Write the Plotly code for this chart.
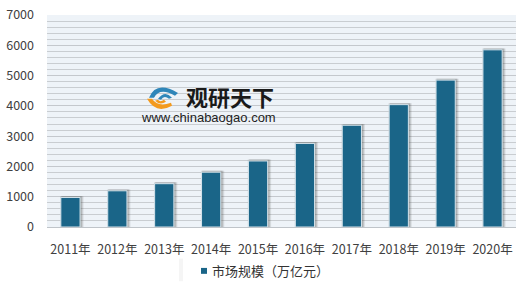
import plotly.graph_objects as go

years = ["2011年", "2012年", "2013年", "2014年", "2015年", "2016年", "2017年", "2018年", "2019年", "2020年"]
market = [975, 1195, 1430, 1810, 2180, 2760, 3360, 4040, 4850, 5850]
series_name = "市场规模（万亿元）"

FONT = "Noto Sans CJK SC"
BAR = "#1a6588"

# plot area in pixels
L, R, T, B = 47, 516, 12, 227
def px(x):
    return (x - L) / (R - L)
def py(y):
    return (B - y) / (B - T)

fig = go.Figure()

# soft shadow layers
for w, off, op in [(0.50, -0.22, 0.10), (0.46, -0.20, 0.14), (0.43, -0.19, 0.18)]:
    fig.add_trace(go.Bar(
        x=years, y=[v + 45 for v in market], width=w, offset=off,
        marker=dict(color=f"rgba(60,60,60,{op})", line=dict(width=0)),
        showlegend=False, hoverinfo="skip"))

fig.add_trace(go.Bar(
    x=years, y=market, name=series_name, width=0.41, offset=-0.205,
    marker=dict(color=BAR, line=dict(color="#d6e4ec", width=1)), showlegend=False))

fig.update_layout(
    width=520, height=282,
    margin=dict(l=L, r=520 - R, t=T, b=282 - B),
    paper_bgcolor="white", plot_bgcolor="#eef3f8",
    barmode="overlay",
    font=dict(family=FONT, size=12, color="#404040"),
    showlegend=False,
    xaxis=dict(showgrid=False, showline=True, linecolor="#bfc4c9", ticks="",
               tickfont=dict(size=12.5, color="#404040"), ticklabelstandoff=11),
    yaxis=dict(range=[0, 7000], dtick=1000, showgrid=True, gridcolor="#c4c8cd", gridwidth=1,
               minor=dict(dtick=200, showgrid=True, gridcolor="#c9cdd1", gridwidth=1),
               zeroline=False, showline=False, ticks="",
               tickfont=dict(size=12.5, color="#404040"), ticklabelstandoff=12),
)

# manual legend
fig.add_shape(type="rect", xref="paper", yref="paper",
              x0=px(179), x1=px(183), y0=py(282), y1=py(259),
              fillcolor="rgba(0,0,0,0.04)", line=dict(width=0))
fig.add_shape(type="rect", xref="paper", yref="paper",
              x0=px(183), x1=px(365), y0=py(282), y1=py(259),
              fillcolor="white", line=dict(width=0))
fig.add_shape(type="rect", xref="paper", yref="paper",
              x0=px(201), x1=px(207), y0=py(274.5), y1=py(268.5),
              fillcolor=BAR, line=dict(width=0))
fig.add_annotation(xref="paper", yref="paper", x=px(210), y=py(271.5),
                   xanchor="left", yanchor="middle", text=series_name, showarrow=False,
                   font=dict(family=FONT, size=13, color="#333333"))

# watermark
fig.add_annotation(xref="paper", yref="paper", x=px(184), y=py(94),
                   xanchor="left", yanchor="middle", text="<b>观研天下</b>", showarrow=False,
                   font=dict(family=FONT, size=22, color="#1a1a1a"))
fig.add_annotation(xref="paper", yref="paper", x=px(139), y=py(116),
                   xanchor="left", yanchor="middle", text="www.chinabaogao.com", showarrow=False,
                   font=dict(family="Liberation Sans", size=13, color="#222222"))

def path(points):
    # points: list of ('M'|'Q'|'L', coords...)
    parts = []
    for cmd, *c in points:
        xy = []
        for i in range(0, len(c), 2):
            xy.append(f"{px(c[i]):.4f},{py(c[i+1]):.4f}")
        parts.append(cmd + " " + " ".join(xy))
    return " ".join(parts) + " Z"

# logo: blue upper swirl
fig.add_shape(type="path", xref="paper", yref="paper",
              path=path([("M", 149, 96), ("Q", 156, 78, 178, 91), ("L", 175, 94),
                         ("Q", 160, 85, 154, 96)]),
              fillcolor="#2f86b9", line=dict(width=0))
fig.add_shape(type="path", xref="paper", yref="paper",
              path=path([("M", 158, 97), ("Q", 165, 88, 172, 96), ("L", 169, 97),
                         ("Q", 164, 93, 161, 98)]),
              fillcolor="#2f86b9", line=dict(width=0))
# logo: orange lower swirl
fig.add_shape(type="path", xref="paper", yref="paper",
              path=path([("M", 147, 97), ("Q", 156, 113, 172, 104), ("L", 171, 101),
                         ("Q", 158, 106, 152, 97)]),
              fillcolor="#f39a1e", line=dict(width=0))
fig.add_shape(type="path", xref="paper", yref="paper",
              path=path([("M", 155, 99), ("Q", 160, 104, 166, 100), ("L", 164, 98),
                         ("Q", 160, 101, 158, 98)]),
              fillcolor="#f39a1e", line=dict(width=0))

fig.write_html("out.html")
